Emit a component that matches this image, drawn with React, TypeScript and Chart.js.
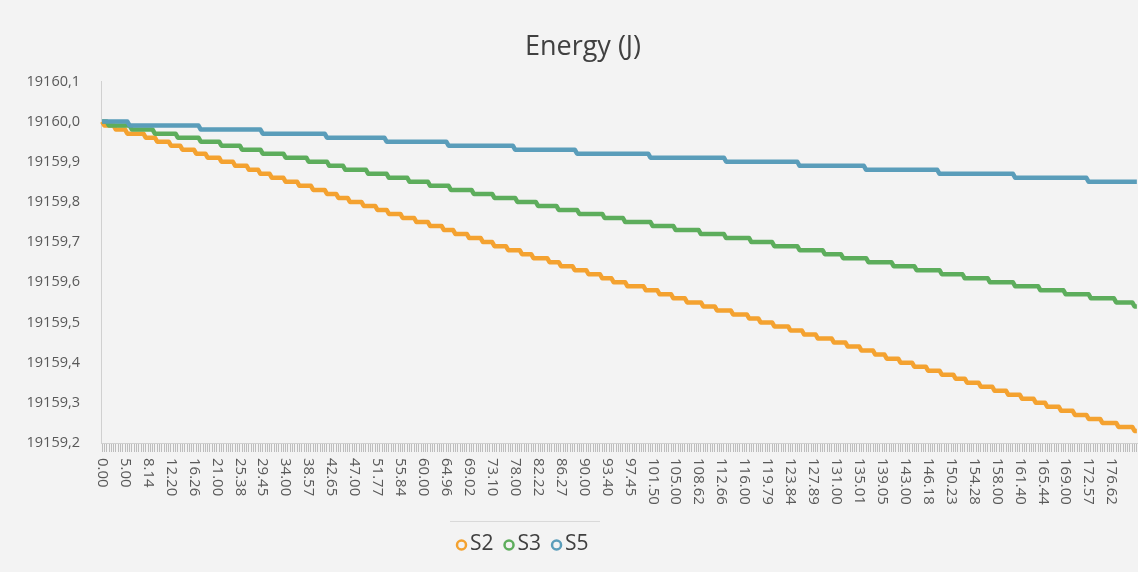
import React, { useEffect, useRef } from 'react';
import { Chart, registerables } from 'chart.js';

Chart.register(...registerables);

const TITLE = 'Energy (J)';
const SERIES_NAMES = ['S2', 'S3', 'S5'];
const SERIES_COLORS = ['#F4A230', '#5DAD5C', '#5A9DBA'];

// x axis: dense category axis, a label shown every LABEL_EVERY categories
const CATEGORY_COUNT = 452;
const LABEL_EVERY = 10;
const X_TICK_LABELS = [
  '0.00', '5.00', '8.14', '12.20', '16.26', '21.00', '25.38', '29.45', '34.00', '38.57',
  '42.65', '47.00', '51.77', '55.84', '60.00', '64.96', '69.02', '73.10', '78.00', '82.22',
  '86.27', '90.00', '93.40', '97.45', '101.50', '105.00', '108.62', '112.66', '116.00', '119.79',
  '123.84', '127.89', '131.00', '135.01', '139.05', '143.00', '146.18', '150.23', '154.28', '158.00',
  '161.40', '165.44', '169.00', '172.57', '176.62',
];

// y axis
const Y_MIN = 19159.2;
const Y_MAX = 19160.1;
const Y_STEP = 0.1;

// Each series is a step function: starting value, then category index where a new level begins and that level
const START_VALUE = 19160.0;

const S2_CHANGE_AT = [
  1, 6, 11, 19, 24, 30, 35, 41, 46, 52, 58, 64, 69, 74, 80, 86, 92, 98, 103, 108,
  114, 120, 125, 131, 137, 143, 149, 154, 160, 166, 171, 177, 183, 188, 195, 200, 206, 212, 218, 223,
  229, 237, 243, 249, 255, 262, 268, 275, 282, 287, 293, 300, 306, 312, 319, 325, 331, 337, 342, 348,
  354, 360, 366, 372, 377, 383, 389, 395, 401, 407, 412, 418, 424, 430, 436, 443, 450,
];
const S2_LEVELS = [
  19159.99, 19159.98, 19159.97, 19159.96, 19159.95, 19159.94, 19159.93, 19159.92, 19159.91, 19159.90,
  19159.89, 19159.88, 19159.87, 19159.86, 19159.85, 19159.84, 19159.83, 19159.82, 19159.81, 19159.80,
  19159.79, 19159.78, 19159.77, 19159.76, 19159.75, 19159.74, 19159.73, 19159.72, 19159.71, 19159.70,
  19159.69, 19159.68, 19159.67, 19159.66, 19159.65, 19159.64, 19159.63, 19159.62, 19159.61, 19159.60,
  19159.59, 19159.58, 19159.57, 19159.56, 19159.55, 19159.54, 19159.53, 19159.52, 19159.51, 19159.50,
  19159.49, 19159.48, 19159.47, 19159.46, 19159.45, 19159.44, 19159.43, 19159.42, 19159.41, 19159.40,
  19159.39, 19159.38, 19159.37, 19159.36, 19159.35, 19159.34, 19159.33, 19159.32, 19159.31, 19159.30,
  19159.29, 19159.28, 19159.27, 19159.26, 19159.25, 19159.24, 19159.23,
];

const S3_CHANGE_AT = [
  3, 13, 23, 33, 43, 52, 61, 70, 80, 90, 99, 106, 116, 125, 134, 143, 152, 162, 171, 181,
  190, 199, 208, 219, 228, 240, 250, 261, 272, 283, 293, 304, 315, 323, 334, 345, 355, 366, 376, 387,
  398, 409, 420, 431, 442, 450,
];
const S3_LEVELS = [
  19159.99, 19159.98, 19159.97, 19159.96, 19159.95, 19159.94, 19159.93, 19159.92, 19159.91, 19159.90,
  19159.89, 19159.88, 19159.87, 19159.86, 19159.85, 19159.84, 19159.83, 19159.82, 19159.81, 19159.80,
  19159.79, 19159.78, 19159.77, 19159.76, 19159.75, 19159.74, 19159.73, 19159.72, 19159.71, 19159.70,
  19159.69, 19159.68, 19159.67, 19159.66, 19159.65, 19159.64, 19159.63, 19159.62, 19159.61, 19159.60,
  19159.59, 19159.58, 19159.57, 19159.56, 19159.55, 19159.54,
];

const S5_CHANGE_AT = [12, 43, 70, 98, 124, 151, 180, 207, 239, 272, 304, 333, 365, 398, 430];
const S5_LEVELS = [
  19159.99, 19159.98, 19159.97, 19159.96, 19159.95, 19159.94, 19159.93, 19159.92, 19159.91, 19159.90,
  19159.89, 19159.88, 19159.87, 19159.86, 19159.85,
];

function holdLevels(changeAt: number[], levels: number[]): number[] {
  const out: number[] = [];
  let current = START_VALUE;
  let k = 0;
  for (let i = 0; i < CATEGORY_COUNT; i++) {
    while (k < changeAt.length && changeAt[k] <= i) {
      current = levels[k];
      k++;
    }
    out.push(current);
  }
  return out;
}

const FONT = '"Open Sans", "Noto Sans", sans-serif';

const overlayPlugin = {
  id: 'overlay',
  afterDraw(chart: any) {
    const ctx = chart.ctx as CanvasRenderingContext2D;
    const xs = chart.scales.x;
    ctx.save();
    // rotated category labels, reading top to bottom
    ctx.font = `15px ${FONT}`;
    ctx.fillStyle = '#595959';
    ctx.textAlign = 'left';
    ctx.textBaseline = 'middle';
    const top = xs.bottom + 6;
    const labels = chart.data.labels as string[];
    labels.forEach((lab, i) => {
      if (!lab) return;
      const x = xs.getPixelForTick(i);
      ctx.save();
      ctx.translate(x, top);
      ctx.rotate(Math.PI / 2);
      ctx.fillText(lab, 0, 0);
      ctx.restore();
    });

    // legend
    ctx.strokeStyle = '#d9d9d9';
    ctx.lineWidth = 1;
    ctx.beginPath();
    ctx.moveTo(450, 521.5);
    ctx.lineTo(600, 521.5);
    ctx.stroke();

    ctx.font = `21px ${FONT}`;
    ctx.textBaseline = 'middle';
    ctx.textAlign = 'left';
    let x = 456;
    const y = 545;
    chart.data.datasets.forEach((ds: any) => {
      ctx.beginPath();
      ctx.arc(x + 5.5, y, 4.5, 0, Math.PI * 2);
      ctx.lineWidth = 2.5;
      ctx.strokeStyle = ds.borderColor;
      ctx.stroke();
      ctx.fillStyle = '#404040';
      ctx.fillText(ds.label, x + 14, y - 1);
      x = x + 14 + ctx.measureText(ds.label).width + 10;
    });
    ctx.restore();
  },
};

export default function App() {
  const canvasRef = useRef<HTMLCanvasElement | null>(null);

  useEffect(() => {
    const canvas = canvasRef.current;
    if (!canvas) return;
    const categories = Array.from({ length: CATEGORY_COUNT }, (_, i) =>
      i % LABEL_EVERY === 0 && i / LABEL_EVERY < X_TICK_LABELS.length ? X_TICK_LABELS[i / LABEL_EVERY] : ''
    );
    const seriesData = [
      holdLevels(S2_CHANGE_AT, S2_LEVELS),
      holdLevels(S3_CHANGE_AT, S3_LEVELS),
      holdLevels(S5_CHANGE_AT, S5_LEVELS),
    ];
    const chart = new Chart(canvas, {
      type: 'line',
      data: {
        labels: categories,
        datasets: SERIES_NAMES.map((name, idx) => ({
          label: name,
          data: seriesData[idx],
          borderColor: SERIES_COLORS[idx],
          backgroundColor: SERIES_COLORS[idx],
          borderWidth: 4.5,
          pointRadius: 0,
          tension: 0,
          fill: false,
          borderJoinStyle: 'round' as const,
          order: SERIES_NAMES.length - idx,
        })),
      },
      options: {
        responsive: false,
        animation: false,
        devicePixelRatio: 1,
        layout: { padding: { left: 28, right: 0, top: 0, bottom: 120 } },
        plugins: {
          legend: { display: false },
          tooltip: { enabled: false },
          title: {
            display: true,
            text: TITLE,
            color: '#404040',
            font: { family: FONT, size: 27, weight: 'normal' },
            padding: { top: 31, bottom: 18 },
          },
        },
        scales: {
          x: {
            type: 'category',
            offset: true,
            grid: {
              display: true,
              drawOnChartArea: false,
              drawTicks: true,
              tickLength: 9,
              color: '#bdbdbd',
              lineWidth: 1,
            },
            border: { display: true, color: '#d0d0d0', width: 1 },
            ticks: { display: false, autoSkip: false },
            afterFit: (scale: any) => {
              scale.height = 9;
            },
          },
          y: {
            type: 'linear',
            min: Y_MIN,
            max: Y_MAX,
            grid: { display: false },
            border: { display: true, color: '#d0d0d0', width: 1 },
            ticks: {
              stepSize: Y_STEP,
              padding: 13,
              color: '#595959',
              font: { family: FONT, size: 14.5 },
              callback: (v: any) => Number(v).toFixed(1).replace('.', ','),
            },
            afterFit: (scale: any) => {
              scale.width = 73;
            },
          },
        },
      },
      plugins: [overlayPlugin],
    });
    return () => chart.destroy();
  }, []);

  return (
    <div
      style={{
        position: 'fixed',
        left: 0,
        top: 0,
        width: 1138,
        height: 572,
        background: '#F3F3F3',
        overflow: 'hidden',
      }}
    >
      <canvas ref={canvasRef} width={1138} height={572} style={{ display: 'block' }} />
    </div>
  );
}
